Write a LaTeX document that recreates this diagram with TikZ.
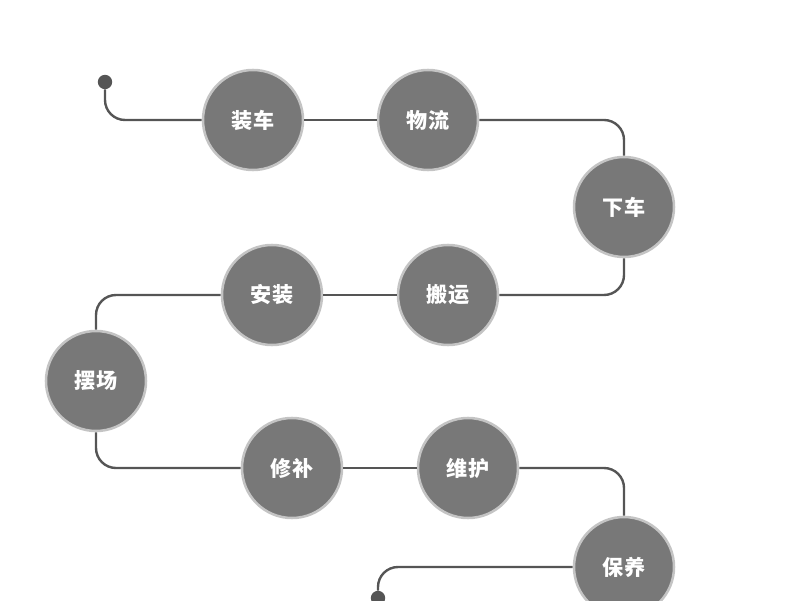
\documentclass[tikz,border=0pt]{standalone}
\usepackage{fontspec}
\newfontfamily\cjk{Noto Sans CJK SC}
\usepackage{tikz}
\definecolor{stepfill}{RGB}{120,120,120}
\definecolor{stepring}{RGB}{196,196,196}
\definecolor{pathline}{RGB}{85,85,85}
\tikzset{
  stepnode/.style={circle, fill=stepfill, draw=stepring, line width=1.8pt,
    minimum size=2.5cm, inner sep=0pt, text=white, font=\cjk\bfseries\fontsize{15}{17}\selectfont},
  enddot/.style={circle, fill=pathline, minimum size=0.36cm, inner sep=0pt},
  track/.style={draw=pathline, line width=1.7pt, rounded corners=0.5cm}
}
\begin{document}
\begin{tikzpicture}
                    \useasboundingbox (0,0) rectangle (20,15);
                    \node[enddot] (start) at (2.625,12.95) {};
                    \node[stepnode] (zc) at (6.325,12) {装车};
                    \node[stepnode] (wl) at (10.7,12) {物流};
                    \node[stepnode] (xc) at (15.6,9.825) {下车};
                    \node[stepnode] (by) at (11.2,7.625) {搬运};
                    \node[stepnode] (az) at (6.8,7.625) {安装};
                    \node[stepnode] (bc) at (2.4,5.475) {摆场};
                    \node[stepnode] (xb) at (7.3,3.3) {修补};
                    \node[stepnode] (wh) at (11.7,3.3) {维护};
                    \node[stepnode] (by2) at (15.6,0.825) {保养};
                    \node[enddot] (end) at (9.45,0.05) {};
                    \draw[track] (start) |- (zc.west);
                    \draw[track] (zc) -- (wl);
                    \draw[track] (wl.east) -| (xc.north);
                    \draw[track] (xc.south) |- (by.east);
                    \draw[track] (by) -- (az);
                    \draw[track] (az.west) -| (bc.north);
                    \draw[track] (bc.south) |- (xb.west);
                    \draw[track] (xb) -- (wh);
                    \draw[track] (wh.east) -| (by2.north);
                    \draw[track] (by2.west) -| (end);
                \end{tikzpicture}
\end{document}
